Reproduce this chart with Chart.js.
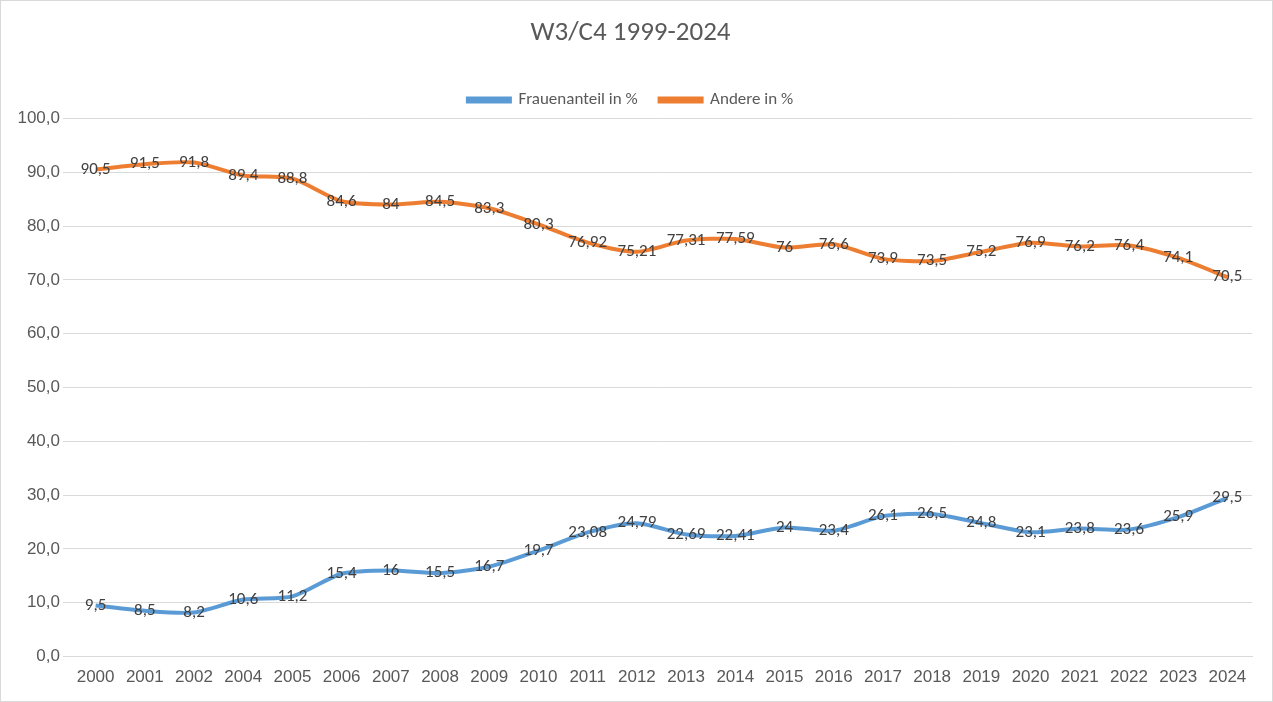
<!DOCTYPE html>
<html>
<head>
  <meta charset="UTF-8">
  <title>W3/C4 1999-2024</title>
  <script src="https://cdn.jsdelivr.net/npm/chart.js"></script>
  <style>
    html, body { margin: 0; padding: 0; background: #fff; }
    .wrap { width: 1271px; height: 700px; border: 1px solid #d9d9d9; }
  </style>
</head>
<body>
  <div class="wrap"><canvas id="chart"></canvas></div>
  <script>
    const years = ['2000','2001','2002','2004','2005','2006','2007','2008','2009','2010','2011','2012',
                   '2013','2014','2015','2016','2017','2018','2019','2020','2021','2022','2023','2024'];
    const frauen = [9.5,8.5,8.2,10.6,11.2,15.4,16,15.5,16.7,19.7,23.08,24.79,22.69,22.41,24,23.4,26.1,26.5,24.8,23.1,23.8,23.6,25.9,29.5];
    const andere = [90.5,91.5,91.8,89.4,88.8,84.6,84,84.5,83.3,80.3,76.92,75.21,77.31,77.59,76,76.6,73.9,73.5,75.2,76.9,76.2,76.4,74.1,70.5];

    const FONT = 'Calibri, Carlito, "Open Sans", sans-serif';

    // value labels centred on the points
    const pointLabels = {
      id: 'pointLabels',
      afterDatasetsDraw(chart) {
        const ctx = chart.ctx;
        ctx.save();
        ctx.font = '17px ' + FONT;
        ctx.fillStyle = '#404040';
        ctx.textAlign = 'center';
        ctx.textBaseline = 'middle';
        chart.data.datasets.forEach((ds, i) => {
          chart.getDatasetMeta(i).data.forEach((pt, j) => {
            ctx.fillText(String(ds.data[j]).replace('.', ','), pt.x, pt.y);
          });
        });
        ctx.restore();
      }
    };

    new Chart(document.getElementById('chart'), {
      type: 'line',
      data: {
        labels: years,
        datasets: [
          { label: 'Frauenanteil in %', data: frauen, borderColor: '#5b9bd5', backgroundColor: '#5b9bd5',
            borderWidth: 4, pointRadius: 0, tension: 0.25 },
          { label: 'Andere in %', data: andere, borderColor: '#ed7d31', backgroundColor: '#ed7d31',
            borderWidth: 4, pointRadius: 0, tension: 0.25 }
        ]
      },
      options: {
        responsive: true,
        maintainAspectRatio: false,
        animation: false,
        layout: { padding: { left: 8, right: 20, top: 8, bottom: 10 } },
        plugins: {
          title: {
            display: true, text: 'W3/C4 1999-2024', color: '#595959',
            font: { size: 27, family: FONT, weight: 'normal' },
            padding: { top: 8, bottom: 20 }
          },
          legend: {
            labels: {
              color: '#595959', boxWidth: 42, boxHeight: 3, padding: 22,
              font: { size: 17, family: FONT }
            }
          },
          tooltip: { enabled: false }
        },
        scales: {
          x: {
            offset: true,
            grid: { display: false },
            border: { color: '#d9d9d9' },
            ticks: { color: '#595959', font: { size: 17 }, maxRotation: 0, autoSkip: false }
          },
          y: {
            min: 0, max: 100,
            afterFit: s => { s.width = 62; },
            ticks: { stepSize: 10, color: '#595959', font: { size: 17 },
                     callback: v => v.toFixed(1).replace('.', ',') },
            grid: { color: '#d9d9d9' },
            border: { display: false }
          }
        }
      },
      plugins: [pointLabels]
    });
  </script>
</body>
</html>
